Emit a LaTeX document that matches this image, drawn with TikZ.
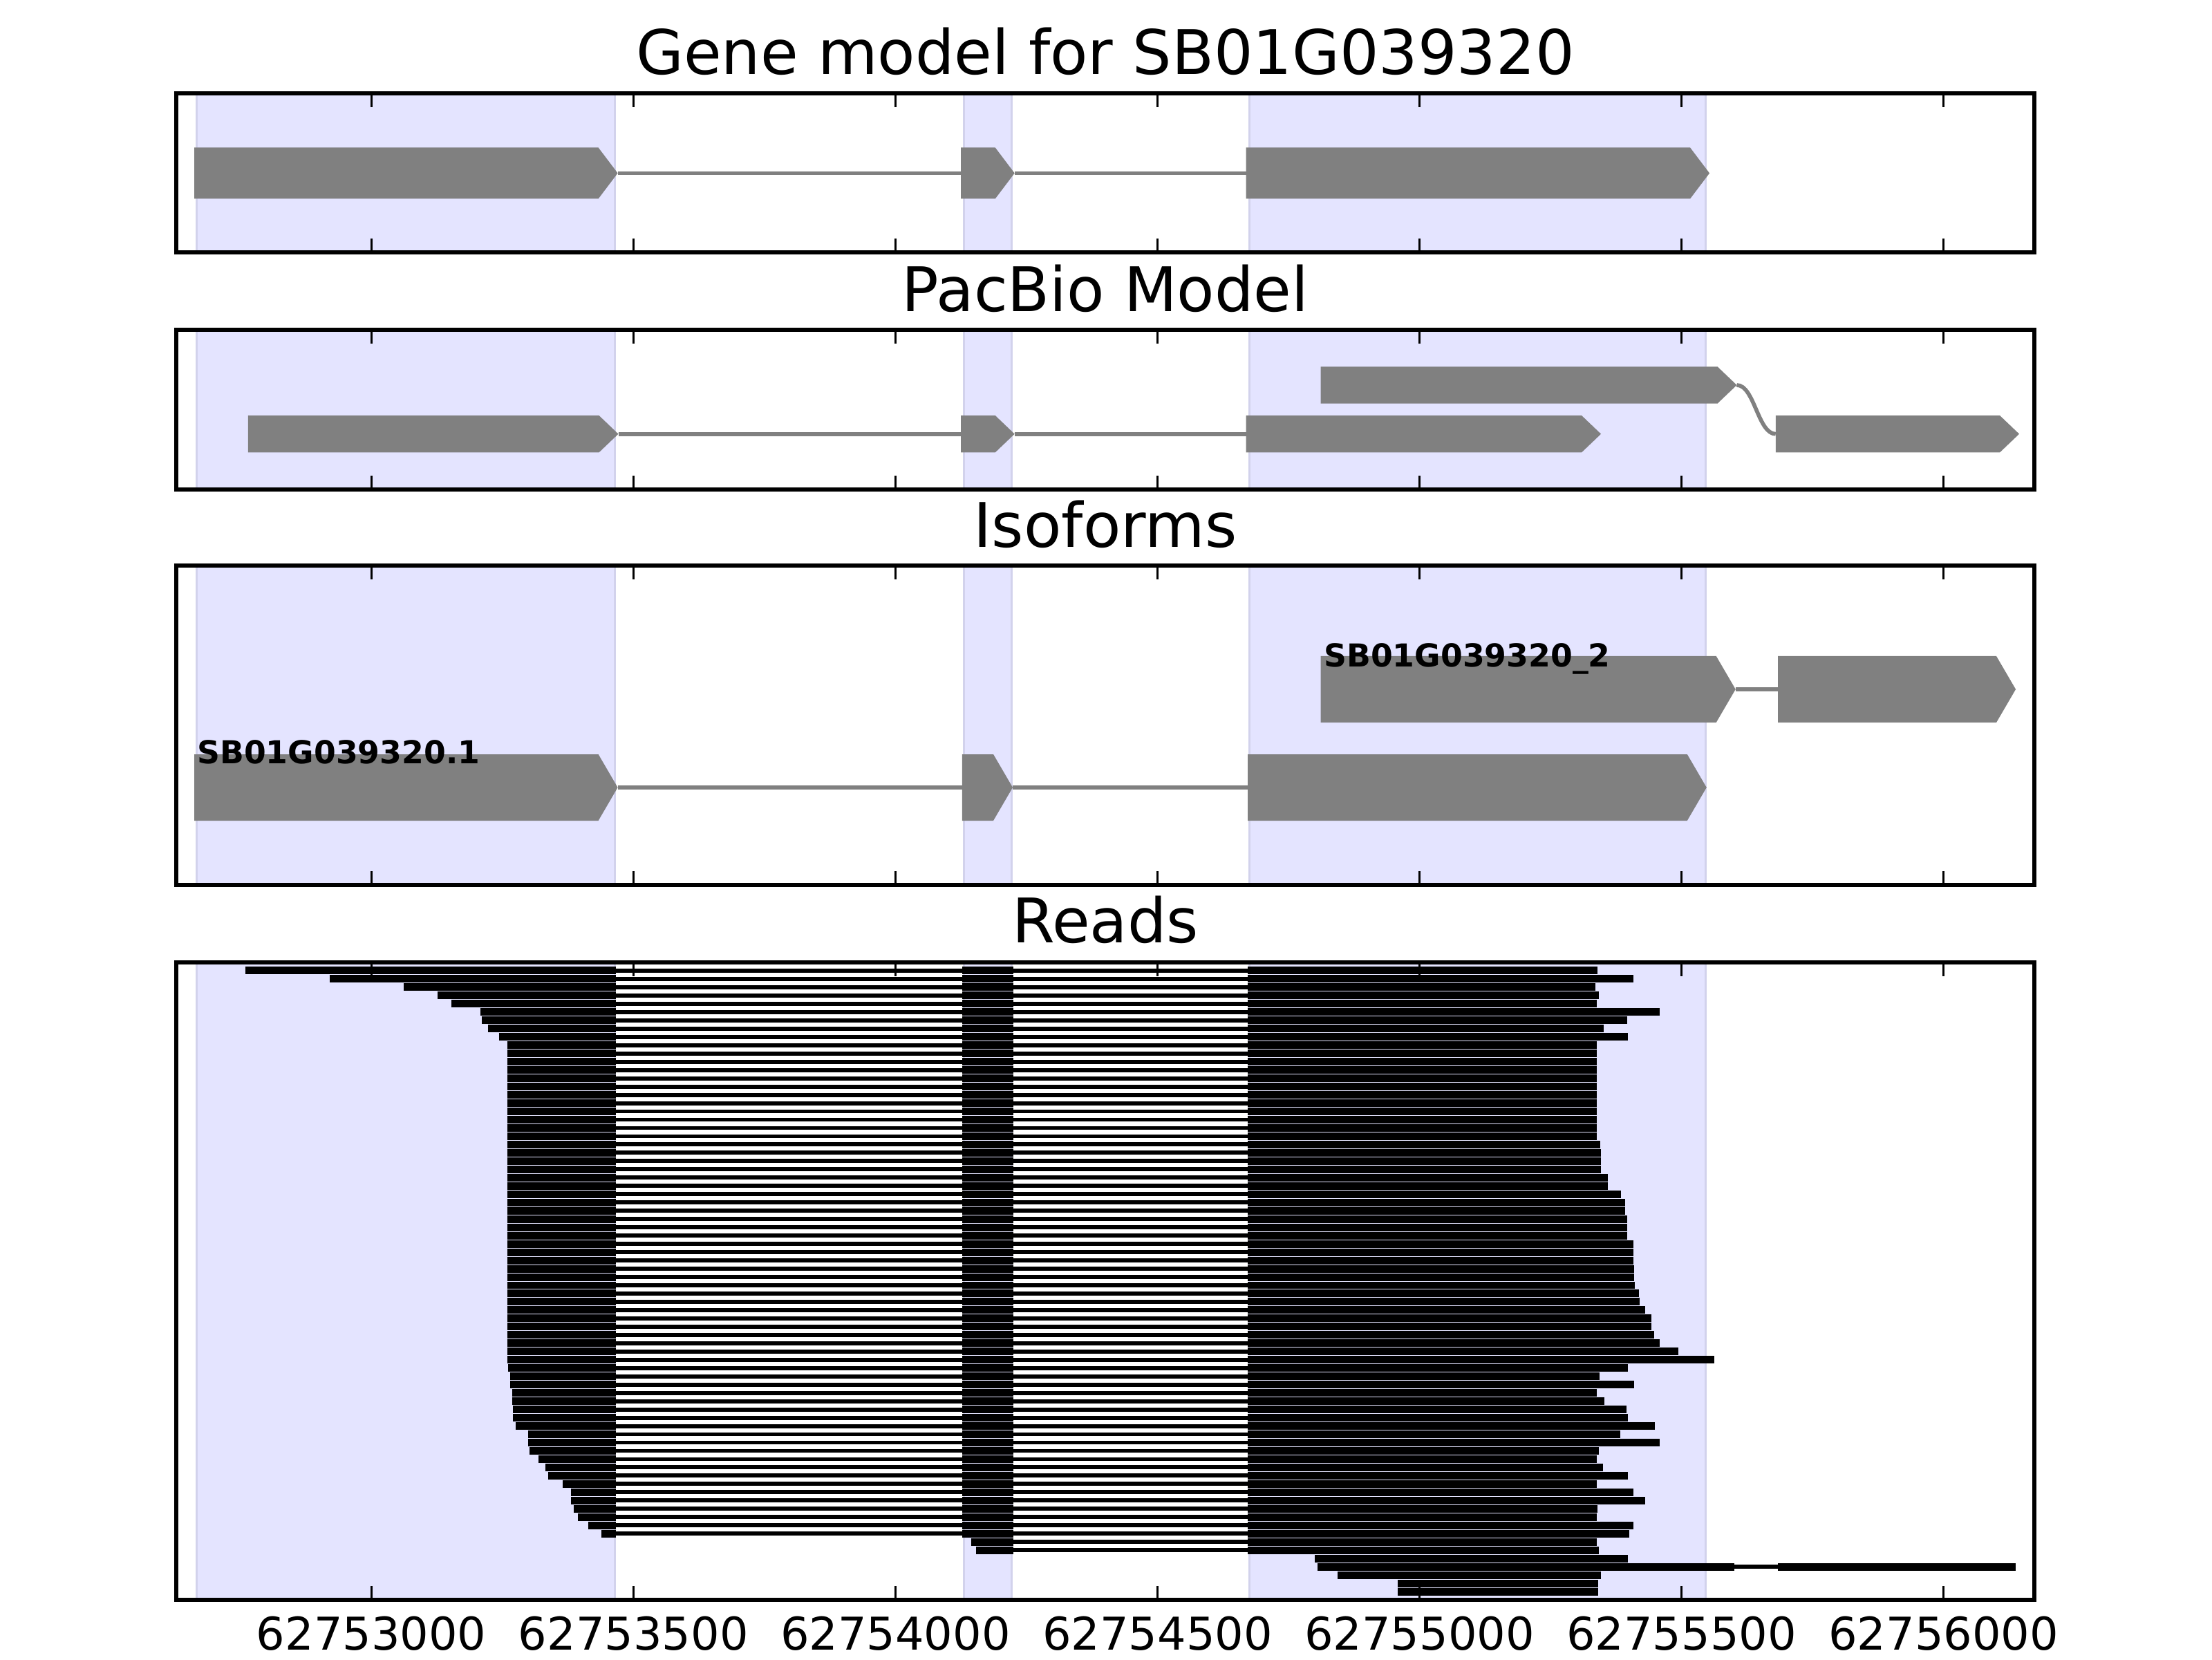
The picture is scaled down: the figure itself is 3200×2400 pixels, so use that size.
\documentclass[tikz,border=0pt]{standalone}
\usepackage{fontspec}
\setmainfont{DejaVu Sans}
\definecolor{spanfill}{RGB}{228,228,255}
\definecolor{spanedge}{RGB}{210,210,236}
\definecolor{modelgray}{RGB}{128,128,128}
% one exon of a model: start x, tip x, middle y, half height
\newcommand{\geneexon}[4]{%
  \fill[modelgray] (#1,{#3-#4}) -- ({#2-28},{#3-#4}) -- (#2,#3) -- ({#2-28},{#3+#4}) -- (#1,{#3+#4}) -- cycle;}
\newcommand{\exonspans}[2]{%
  \foreach \a/\b in {284.6/889,1394.5/1463,1807/2467}
    \filldraw[spanbox] (\a,#1) rectangle (\b,#2);}
\newcommand{\axesframe}[2]{%
  \foreach \k in {0,...,6}
    \draw[tickmark] ({537.3+379.05*\k},#1) -- ++(0,20) ({537.3+379.05*\k},#2) -- ++(0,-20);
  \draw[frame] (255,#1) rectangle (2943,#2);}

\begin{document}
\begin{tikzpicture}[x=0.05mm,y=-0.05mm,
spanbox/.style={fill=spanfill,draw=spanedge,line width=0.43pt},
frame/.style={draw=black,line width=0.78pt},
tickmark/.style={black,line width=0.38pt},
modelintron/.style={modelgray,line width=0.81pt},
readexon/.style={black,line width=1.56pt},
readintron/.style={black,line width=0.84pt},
paneltitle/.style={anchor=base,inner sep=0pt,font=\fontsize{12.65}{15}\selectfont},
ticklabel/.style={anchor=base,inner sep=0pt,font=\fontsize{9.3}{11}\selectfont},
isolabel/.style={anchor=base west,inner sep=0pt,font=\fontsize{6.5}{8}\selectfont\bfseries}]
\useasboundingbox[fill=white] (0,0) rectangle (3200,2400);

% gene model
\node[paneltitle] (ttlgene) at (1599,108) {Gene model for SB01G039320};
\exonspans{135}{365}
\draw[modelintron] (893.6,250.5) -- (1390,250.5) (1467.7,250.5) -- (1802.7,250.5);
\geneexon{281}{893.6}{250.5}{37}
\geneexon{1390}{1467.7}{250.5}{37}
\geneexon{1802.7}{2473}{250.5}{37}
\axesframe{135}{365}

% pacbio model
\node[paneltitle] (ttlpacbio) at (1599,451) {PacBio Model};
\exonspans{477}{708}
\draw[modelintron] (894.5,627.7) -- (1390,627.7) (1467.7,627.7) -- (1802.7,627.7);
\draw[modelintron] (2512.5,557) .. controls (2538,557) and (2543,627.7) .. (2568.75,627.7);
\geneexon{358.75}{894.5}{627.7}{26.7}
\geneexon{1390}{1467.7}{627.7}{26.7}
\geneexon{1802.7}{2316}{627.7}{26.7}
\geneexon{1910.7}{2512.5}{557}{26.7}
\geneexon{2568.75}{2921}{627.7}{26.7}
\axesframe{477}{708}

% isoforms
\node[paneltitle] (ttliso) at (1599,792) {Isoforms};
\exonspans{818}{1280}
\draw[modelintron] (893.6,1139) -- (1391.8,1139) (1465,1139) -- (1805,1139);
\draw[modelintron] (2510.7,997) -- (2572,997);
\geneexon{281}{893.6}{1139}{48}
\geneexon{1391.8}{1465}{1139}{48}
\geneexon{1805}{2468.75}{1139}{48}
\geneexon{1910.7}{2510.7}{997}{48}
\geneexon{2572}{2916}{997}{48}
\node[isolabel] (isoone) at (284,1105) {SB01G039320.1};
\node[isolabel] (isotwo) at (1914,964) {SB01G039320\_2};
\axesframe{818}{1280}

% reads
\node[paneltitle] (ttlreads) at (1599,1363) {Reads};
\exonspans{1392}{2314}
\foreach \s/\e [count=\i] in {354.8/2311,476.6/2363,584.4/2308,632.9/2313,653.3/2310,
  695.4/2401,696.6/2354,706.2/2320,721.5/2355,733.7/2310,733.7/2310,733.7/2310,
  733.7/2310,733.7/2310,733.7/2310,733.7/2310,733.7/2310,733.7/2310,733.7/2310,
  733.7/2310,733.7/2310,733.7/2315,733.7/2316,733.7/2316,733.7/2316,733.7/2326,
  733.7/2326,733.7/2345,733.7/2351,733.7/2351,733.7/2354,733.7/2354,733.7/2354,
  733.7/2363,733.7/2363,733.7/2363,733.7/2364,733.7/2364,733.7/2365,733.7/2371,
  733.7/2372,733.7/2380,733.7/2389,733.7/2389,733.7/2393,733.7/2401,733.7/2428,
  733.7/2480,735/2355,738/2314,738/2364,741/2310,741/2321,742/2353,742/2355,
  746/2394,764/2344,764/2401,766/2313,779/2310,789/2319,793/2355,814/2310,
  826/2363,826/2380,830/2311,836/2310,851/2363,870/2357}{
  \pgfmathsetmacro{\yy}{1392+11.974*\i}
  \draw[readintron] (891,\yy) -- (1805,\yy);
  \draw[readexon] (\s,\yy) -- (891,\yy) (1392,\yy) -- (1466,\yy) (1805,\yy) -- (\e,\yy);
}
\foreach \s/\e/\r in {1405/2310/70,1412/2312.5/71}{
  \pgfmathsetmacro{\yy}{1392+11.974*\r}
  \draw[readintron] (1466,\yy) -- (1805,\yy);
  \draw[readexon] (\s,\yy) -- (1466,\yy) (1805,\yy) -- (\e,\yy);
}
\foreach \s/\e/\r in {1902/2355/72,1935/2316/74,2022/2312/75,2022/2312/76}{
  \pgfmathsetmacro{\yy}{1392+11.974*\r}
  \draw[readexon] (\s,\yy) -- (\e,\yy);
}
\pgfmathsetmacro{\yy}{1392+11.974*73}
\draw[readintron] (2509,\yy) -- (2572,\yy);
\draw[readexon] (1906,\yy) -- (2509,\yy) (2572,\yy) -- (2916,\yy);
\axesframe{1392}{2314}
\foreach \k/\lbl in {0/62753000,1/62753500,2/62754000,3/62754500,4/62755000,5/62755500,6/62756000}
  \node[ticklabel] (tl\k) at ({537.3+379.05*\k},2386) {\lbl};
\end{tikzpicture}
\end{document}
